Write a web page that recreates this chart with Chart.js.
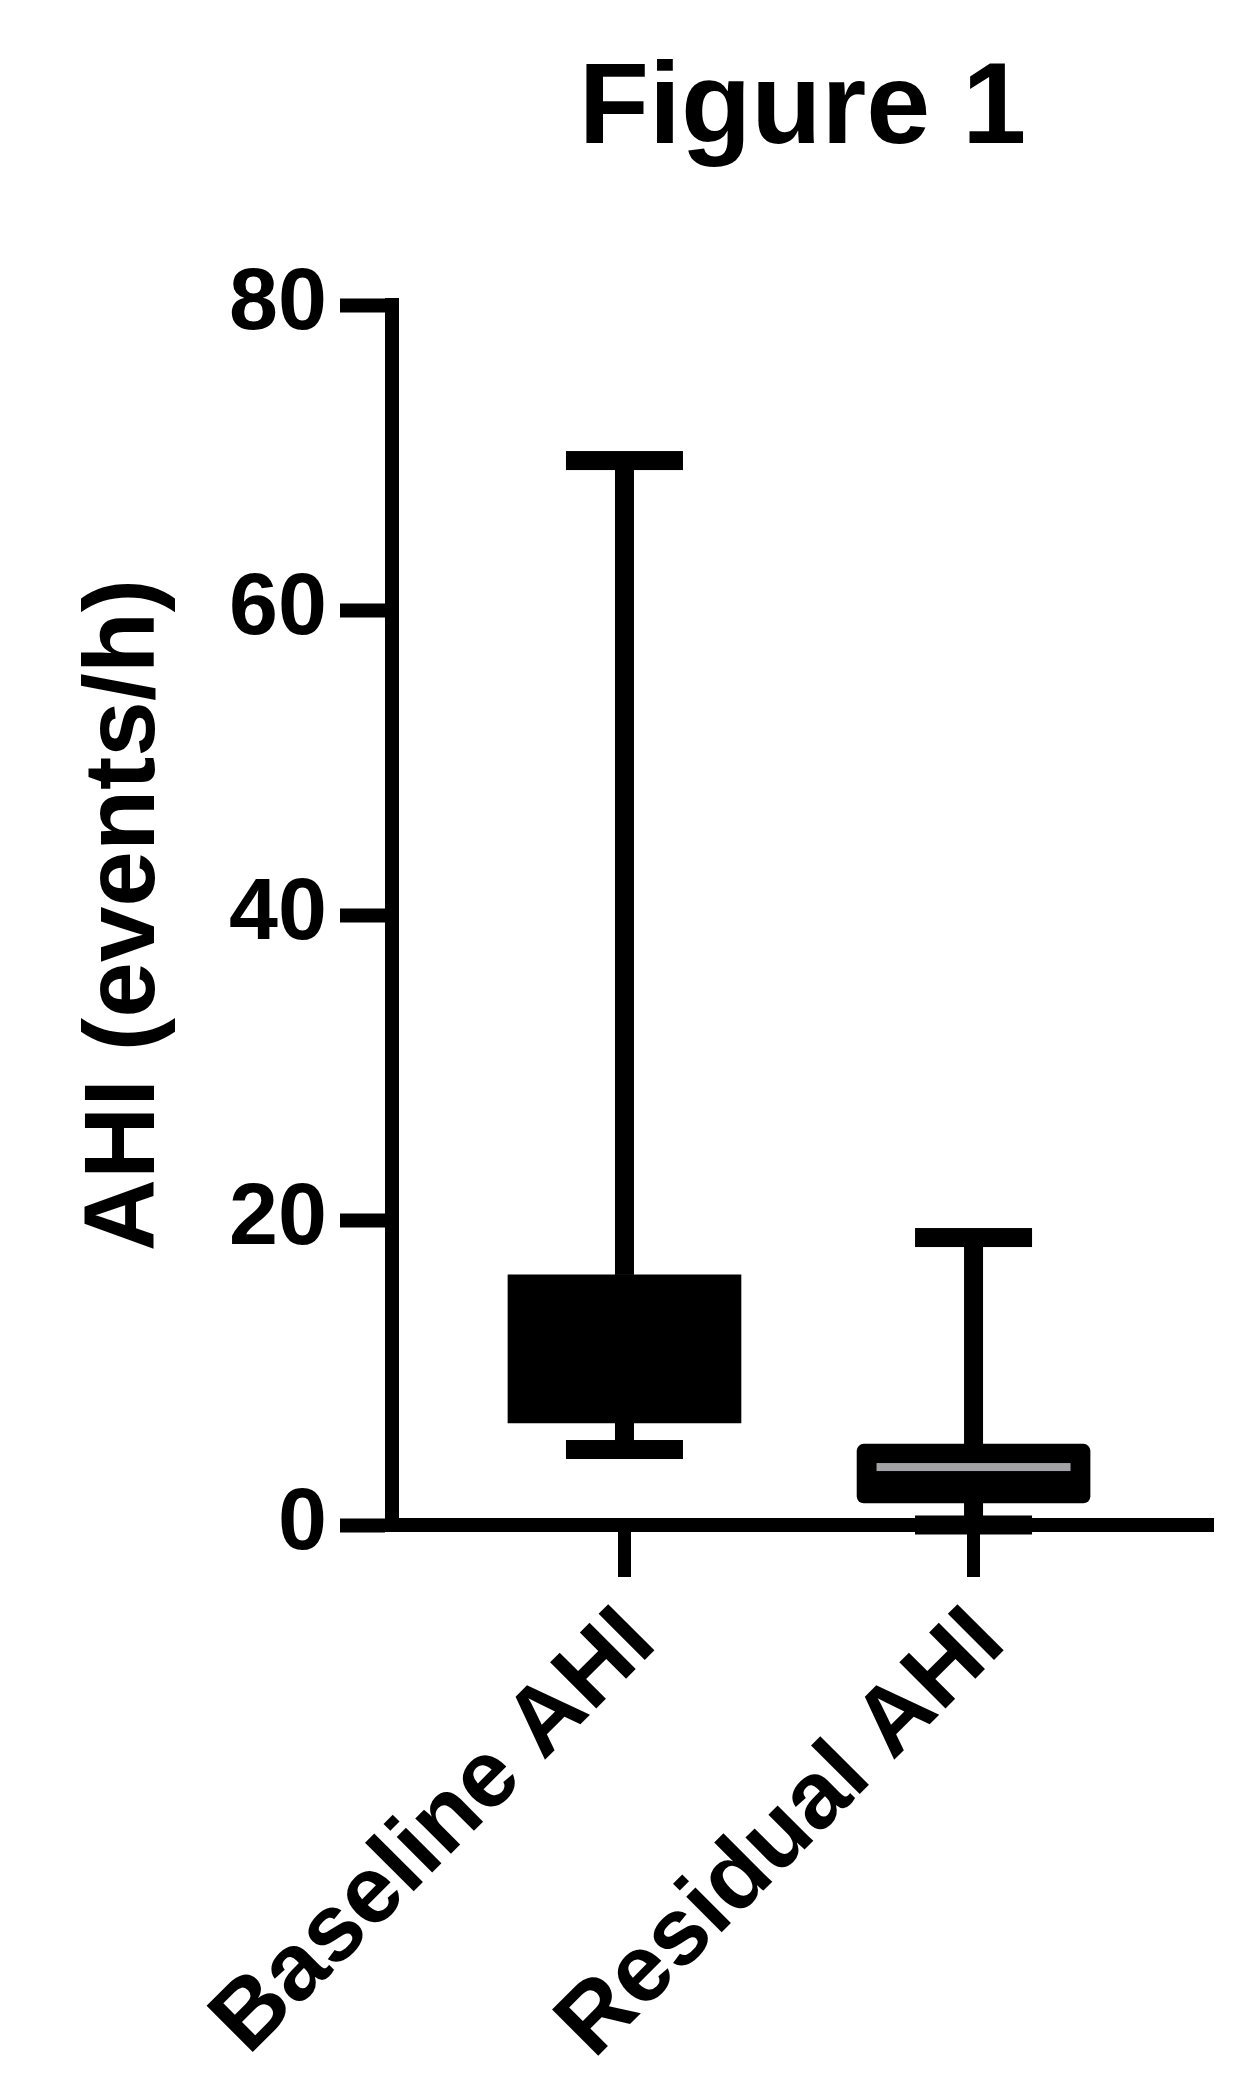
<!DOCTYPE html>
<html>
<head>
<meta charset="utf-8">
<title>Figure 1</title>
<script src="https://cdn.jsdelivr.net/npm/chart.js@4.4.1/dist/chart.umd.min.js"></script>
<style>
  html, body { margin: 0; padding: 0; background: #fff; }
  canvas { display: block; }
</style>
</head>
<body>
<canvas id="chart" width="1248" height="2088"></canvas>
<script>
// box plot values (events/h)
const categories = ['Baseline AHI', 'Residual AHI'];
const mins = [4.95, 0.0];
const q1s = [6.7, 1.45];
const medians = [null, 3.8];
const q3s = [16.4, 5.3];
const maxs = [69.8, 18.85];
const yTicks = [0, 20, 40, 60, 80];

const FONT = "'Liberation Sans', Arial, sans-serif";

// whiskers + caps under the boxes, median on top
const whiskers = {
  id: 'whiskers',
  beforeDatasetsDraw(chart) {
    const { ctx, scales: { x, y } } = chart;
    ctx.save();
    ctx.fillStyle = '#000';
    categories.forEach((c, i) => {
      const cx = x.getPixelForValue(i + 1);
      const yMax = y.getPixelForValue(maxs[i]);
      const yQ3 = y.getPixelForValue(q3s[i]);
      const yQ1 = y.getPixelForValue(q1s[i]);
      const yMin = y.getPixelForValue(mins[i]);
      ctx.fillRect(cx - 9.5, yMax, 19, yQ3 - yMax);
      ctx.fillRect(cx - 58.5, yMax - 9.5, 117, 19);
      ctx.fillRect(cx - 9.5, yQ1, 19, yMin - yQ1);
      ctx.fillRect(cx - 58.5, yMin - 9.5, 117, 19);
    });
    ctx.restore();
  },
  afterDatasetsDraw(chart) {
    const { ctx, scales: { x, y } } = chart;
    ctx.save();
    ctx.fillStyle = '#a2a1a6';
    categories.forEach((c, i) => {
      if (medians[i] == null) return;
      const cx = x.getPixelForValue(i + 1);
      const yMed = y.getPixelForValue(medians[i]);
      ctx.fillRect(cx - 97, yMed - 4, 194, 8);
    });
    ctx.restore();
  }
};

const chart = new Chart(document.getElementById('chart'), {
  type: 'bar',
  data: {
    datasets: [{
      data: categories.map((c, i) => ({ x: i + 1, y: [q1s[i], q3s[i]] })),
      backgroundColor: '#000',
      borderWidth: 0,
      borderSkipped: false,
      borderRadius: (ctx) => ctx.dataIndex === 1 ? 7 : 0,
      barThickness: 233
    }]
  },
  options: {
    responsive: false,
    animation: false,
    layout: { padding: { left: 0, right: 35, top: 0, bottom: 0 } },
    plugins: {
      legend: { display: false },
      tooltip: { enabled: false },
      title: {
        display: true,
        text: 'Figure 1',
        fullSize: false,
        color: '#000',
        font: { family: FONT, size: 115, weight: 'bold' },
        padding: { top: 42, bottom: 125 }
      }
    },
    scales: {
      x: {
        type: 'linear',
        min: 0.334,
        max: 2.686,
        offset: false,
        afterFit: (s) => { s.height = 563; },
        afterBuildTicks: (s) => { s.ticks = categories.map((c, i) => ({ value: i + 1 })); },
        border: { display: true, color: '#000', width: 14 },
        grid: { offset: false, drawOnChartArea: false, color: '#000', tickLength: 52, tickWidth: 13 },
        ticks: {
          color: '#000',
          font: { family: FONT, size: 95, weight: 'bold' },
          minRotation: 45,
          maxRotation: 45,
          padding: 10,
          labelOffset: 16,
          callback: (v) => categories[v - 1]
        }
      },
      y: {
        min: 0,
        max: 80,
        afterFit: (s) => { s.width = 392; },
        afterBuildTicks: (s) => { s.ticks = yTicks.map(v => ({ value: v })); },
        border: { display: true, color: '#000', width: 14 },
        grid: { drawOnChartArea: false, color: '#000', tickLength: 52, tickWidth: 14 },
        ticks: {
          color: '#000',
          font: { family: FONT, size: 88, weight: 'bold' },
          padding: 13
        },
        title: {
          display: true,
          text: 'AHI (events/h)',
          color: '#000',
          font: { family: FONT, size: 100, weight: 'bold' },
          padding: { top: 66, bottom: 0 }
        }
      }
    }
  },
  plugins: [whiskers]
});
</script>
</body>
</html>
